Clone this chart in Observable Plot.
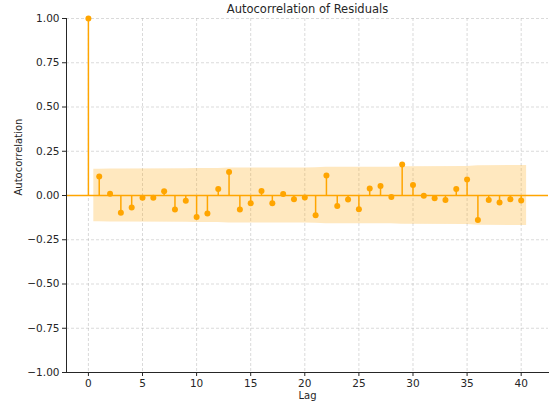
<!DOCTYPE html>
<html>
<head>
<meta charset="utf-8">
<script src="https://cdn.jsdelivr.net/npm/d3@7"></script>
<script src="https://cdn.jsdelivr.net/npm/@observablehq/plot@0.6"></script>
<style>
  html, body { margin: 0; padding: 0; background: #fff; }
  svg { font-family: "DejaVu Sans", sans-serif; }
</style>
</head>
<body>
<div id="chart"></div>
<script>
const title = "Autocorrelation of Residuals";
const xLabel = "Lag";
const yLabel = "Autocorrelation";

const lags = [0,1,2,3,4,5,6,7,8,9,10,11,12,13,14,15,16,17,18,19,20,21,22,23,24,25,26,27,28,29,30,31,32,33,34,35,36,37,38,39,40];
const acfValues = [1.0,0.107,0.010,-0.098,-0.068,-0.013,-0.013,0.024,-0.079,-0.030,-0.122,-0.102,0.037,0.133,-0.079,-0.044,0.026,-0.044,0.009,-0.021,-0.011,-0.111,0.113,-0.059,-0.023,-0.077,0.040,0.053,-0.008,0.175,0.060,-0.002,-0.015,-0.025,0.037,0.090,-0.138,-0.025,-0.040,-0.021,-0.028];

const bandLags = [0.5, 1, 2, 3, 9, 10, 12, 13, 20, 21, 22, 28, 29, 35, 36, 40.5];
const bandHalfWidth = [0.149, 0.149, 0.150, 0.150, 0.151, 0.152, 0.153, 0.155, 0.156, 0.157, 0.159, 0.160, 0.163, 0.164, 0.168, 0.170];

const xTicks = [0, 5, 10, 15, 20, 25, 30, 35, 40];
const yTicks = [-1, -0.75, -0.5, -0.25, 0, 0.25, 0.5, 0.75, 1];

const acf = lags.map((lag, i) => ({lag, r: acfValues[i]}));
const band = bandLags.map((lag, i) => ({lag, h: bandHalfWidth[i]}));

const orange = "#FFA500";
const fmt = d => (d < 0 ? "\u2212" : "") + Math.abs(d).toFixed(2);

const chart = Plot.plot({
  width: 552,
  height: 405,
  marginLeft: 66,
  marginRight: 4,
  marginTop: 18,
  marginBottom: 33,
  style: {fontFamily: "DejaVu Sans, sans-serif", fontSize: "10px", color: "#262626", background: "#fff"},
  x: {domain: [-2.025, 42.525]},
  y: {domain: [-1, 1]},
  marks: [
    Plot.gridX(xTicks, {stroke: "#b0b0b0", strokeOpacity: 0.6, strokeDasharray: "3,2", strokeWidth: 0.8}),
    Plot.gridY(yTicks, {stroke: "#b0b0b0", strokeOpacity: 0.6, strokeDasharray: "3,2", strokeWidth: 0.8}),
    Plot.areaY(band, {x: "lag", y1: d => -d.h, y2: d => d.h, fill: orange, fillOpacity: 0.25}),
    Plot.ruleY([0], {stroke: orange, strokeWidth: 1.5}),
    Plot.ruleX(acf, {x: "lag", y1: 0, y2: "r", stroke: orange, strokeWidth: 1.5}),
    Plot.dot(acf, {x: "lag", y: "r", fill: orange, r: 3}),
    Plot.axisX({ticks: xTicks, tickSize: 4, tickPadding: 3, fontSize: 10.5, label: null}),
    Plot.axisY({ticks: yTicks, tickSize: 4, tickPadding: 3, fontSize: 10.5, tickFormat: fmt, label: null}),
    Plot.text([xLabel], {frameAnchor: "bottom", lineAnchor: "middle", dy: 23, fontSize: 10, fill: "#262626"}),
    Plot.text([yLabel], {frameAnchor: "left", dx: -48, rotate: -90, fontSize: 10, fill: "#262626"}),
    Plot.frame({anchor: "left", stroke: "#262626", strokeWidth: 1}),
    Plot.frame({anchor: "bottom", stroke: "#262626", strokeWidth: 1}),
    Plot.text([title], {frameAnchor: "top", lineAnchor: "middle", dy: -9, fontSize: 11.5, fill: "#262626"})
  ]
});
document.getElementById("chart").appendChild(chart);
</script>
</body>
</html>
